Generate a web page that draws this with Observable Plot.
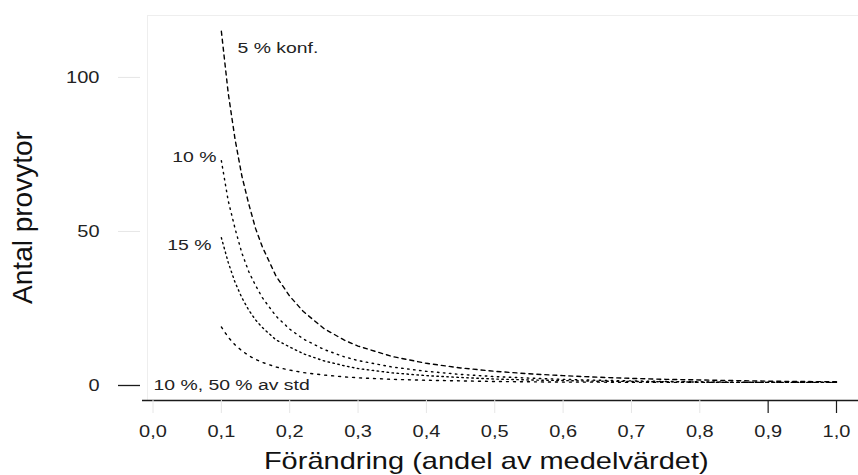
<!DOCTYPE html>
<html>
<head>
<meta charset="utf-8">
<script src="https://cdn.jsdelivr.net/npm/d3@7"></script>
<script src="https://cdn.jsdelivr.net/npm/@observablehq/plot@0.6"></script>
<style>
  html, body { margin: 0; padding: 0; background: #fff; }
  svg { display: block; }
</style>
</head>
<body>
<div id="chart"></div>
<script>
// ---- data ----
const xTicks = [0, 0.1, 0.2, 0.3, 0.4, 0.5, 0.6, 0.7, 0.8, 0.9, 1.0];
const yTicks = [0, 50, 100];
const xLabel = "Förändring (andel av medelvärdet)";
const yLabel = "Antal provytor";
const seriesNames = ["5 % konf.", "10 %", "15 %", "10 %, 50 % av std"];

const change = [0.1, 0.11, 0.12, 0.13, 0.14, 0.15, 0.16, 0.18, 0.2, 0.22, 0.25, 0.28, 0.3, 0.35, 0.4, 0.45, 0.5, 0.55, 0.6, 0.65, 0.7, 0.75, 0.8, 0.85, 0.9, 0.95, 1.0];
const conf5  = [115, 95, 80, 68, 59, 51, 45, 35.5, 29, 24, 18.5, 14.7, 12.8, 9.4, 7.2, 5.7, 4.6, 3.8, 3.2, 2.7, 2.3, 2.0, 1.8, 1.6, 1.4, 1.3, 1.2];
const conf10 = [73, 60, 51, 43, 37, 32.5, 28.5, 22.5, 18.3, 15.1, 11.7, 9.3, 8.1, 6.0, 4.6, 3.6, 2.9, 2.4, 2.0, 1.7, 1.5, 1.3, 1.2, 1.1, 1.0, 1.0, 1.0];
const conf15 = [48, 40, 33.5, 28.5, 24.5, 21.3, 18.8, 14.8, 12.5, 10.3, 8.0, 6.4, 5.5, 4.1, 3.2, 2.6, 2.1, 1.8, 1.6, 1.4, 1.3, 1.2, 1.1, 1.0, 1.0, 1.0, 1.0];
const std50  = [19, 15.7, 13.2, 11.3, 9.7, 8.5, 7.5, 6.0, 5.0, 4.2, 3.4, 2.8, 2.5, 2.0, 1.7, 1.5, 1.3, 1.2, 1.1, 1.1, 1.0, 1.0, 1.0, 1.0, 1.0, 1.0, 1.0];

// ---- build table ----
const allSeries = [conf5, conf10, conf15, std50];
const rows = [];
allSeries.forEach((vals, i) => vals.forEach((v, j) => rows.push({series: seriesNames[i], x: change[j], n: v})));
const dashes = {"5 % konf.": "4,4", "10 %": "1.5,4.5", "15 %": "1.5,3.5", "10 %, 50 % av std": "2,5"};

const fmt = d => d3.format(".1f")(d).replace(".", ",");
const yMin = -4.87, yMax = 120.1;
const ink = "#1a1a1a";

const marks = [
  // faint frame remnants
  Plot.ruleY([yMax], {stroke: "#eeeeee", insetLeft: -5.5, insetRight: -22}),
  Plot.ruleX([0], {stroke: "#eeeeee", dx: -5.5}),
  // curves
  ...seriesNames.map(s => Plot.line(rows.filter(r => r.series === s), {
    x: "x", y: "n", stroke: "black", strokeWidth: 1.4, strokeDasharray: dashes[s]
  })),
  // x axis line
  Plot.ruleY([yMin], {stroke: ink, strokeWidth: 1.5, insetLeft: -10.5, insetRight: -22}),
  // x ticks
  Plot.axisX(xTicks.slice(0, 9), {tickSize: 13, stroke: "#e6e6e6", tickPadding: 12, fontSize: 16, tickFormat: fmt, fill: "#222", label: null}),
  Plot.axisX(xTicks.slice(9), {tickSize: 13, stroke: ink, strokeWidth: 1.2, tickPadding: 12, fontSize: 16, tickFormat: fmt, fill: "#222", label: null}),
  // y ticks
  Plot.axisY(yTicks.slice(1), {tickSize: 22, dx: -12.5, stroke: "#e6e6e6", tickPadding: 19, fontSize: 16, fill: "#222", label: null}),
  Plot.axisY(yTicks.slice(0, 1), {tickSize: 22, dx: -12.5, stroke: ink, strokeWidth: 1.3, tickPadding: 19, fontSize: 16, fill: "#222", label: null}),
  // curve labels
  Plot.text([seriesNames[0]], {x: 0.1236, y: 109.7, text: d => d, textAnchor: "start", fontSize: 15.5, fill: "#222"}),
  Plot.text([seriesNames[1]], {x: 0.0929, y: 74, text: d => d, textAnchor: "end", fontSize: 15.5, fill: "#222"}),
  Plot.text([seriesNames[2]], {x: 0.0856, y: 45.5, text: d => d, textAnchor: "end", fontSize: 15.5, fill: "#222"}),
  Plot.text([seriesNames[3]], {x: 0.0007, y: 0, text: d => d, textAnchor: "start", fontSize: 15.5, fill: "#222"}),
  // axis titles
  Plot.text([xLabel], {frameAnchor: "bottom", dy: 61, dx: -8.5, text: d => d, fontSize: 23.2, fill: "#111", lineAnchor: "middle"}),
  Plot.text([yLabel], {frameAnchor: "left", dx: -129.5, dy: 9.5, rotate: -90, text: d => d, fontSize: 28, fill: "#111", textAnchor: "middle", lineAnchor: "middle"})
];

const chart = Plot.plot({
  width: 858,
  height: 475,
  marginLeft: 152.5,
  marginRight: 22,
  marginTop: 15,
  marginBottom: 75,
  style: {fontFamily: "'Liberation Sans', Arial, sans-serif", background: "#fff", overflow: "visible"},
  x: {domain: [0, 1], axis: null},
  y: {domain: [yMin, yMax], axis: null},
  marks
});
document.getElementById("chart").appendChild(chart);

// widen horizontal texts as in the reference
d3.select(chart).selectAll("text").each(function() {
  const t = this.textContent;
  if (t === yLabel) return;
  const len = this.getComputedTextLength();
  this.setAttribute("textLength", (len * 1.25).toFixed(1));
  this.setAttribute("lengthAdjust", "spacingAndGlyphs");
});
</script>
</body>
</html>
